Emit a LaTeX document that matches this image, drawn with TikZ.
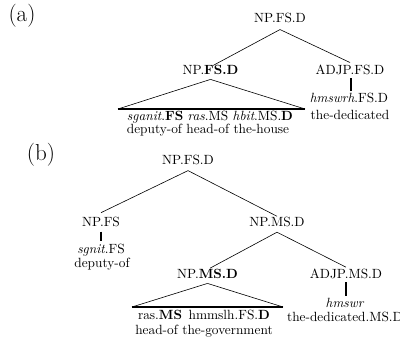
\documentclass[tikz,border=0pt]{standalone}
\begin{document}
\begin{tikzpicture}[x=0.75pt,y=-0.75pt,
  lbl/.style={inner sep=0pt,anchor=base,font=\fontsize{10}{12}\selectfont},
  panel/.style={inner sep=0pt,font=\LARGE},
  branch/.style={line width=0.45pt},
  bar/.style={line width=1.3pt},
  roofbase/.style={line width=1.2pt}]
\useasboundingbox (0,0) rectangle (400,341);
% ---------- (a) ----------
\node[panel] (pa) at (22,16) {(a)};
\node[lbl] (aroot) at (280,23) {NP.FS.D};
\node[lbl] (anp) at (210.5,75) {NP.\textbf{FS.D}};
\node[lbl] (aadj) at (350,75) {ADJP.FS.D};
\node[lbl] (aw1) at (349,103) {\textit{hmswrh}.FS.D};
\node[lbl] (ag1) at (350,119.5) {the-dedicated};
\node[lbl] (aw2) at (210,121) {\textit{sganit}.\textbf{FS} \textit{ras}.MS \textit{hbit}.MS.\textbf{D}};
\node[lbl] (ag2) at (208,133.5) {deputy-of head-of the-house};
\coordinate (abl) at (118,109);
\coordinate (abr) at (305,109);
\draw[branch] ([yshift=-4.5pt]aroot.south) -- ([xshift=2pt]anp.north);
\draw[branch] ([yshift=-4.5pt]aroot.south) -- ([yshift=2pt]aadj.north);
\draw[bar] ([xshift=0.8pt,yshift=-2pt]aadj.south) -- ([xshift=0.8pt,yshift=1.5pt]aadj.south |- aw1.north);
\draw[branch] ([yshift=-3pt]anp.south) -- (abl);
\draw[branch] ([yshift=-3pt]anp.south) -- (abr);
\draw[roofbase] (abl) -- (abr);
% ---------- (b) ----------
\node[panel] (pb) at (41,155) {(b)};
\node[lbl] (broot) at (188,165) {NP.FS.D};
\node[lbl] (bnpfs) at (101,227) {NP.FS};
\node[lbl] (bw1) at (101,254) {\textit{sgnit}.FS};
\node[lbl] (bg1) at (102,268) {deputy-of};
\node[lbl] (bnpms) at (277,227) {NP.MS.D};
\node[lbl] (bnpmsd) at (207.5,279) {NP.\textbf{MS.D}};
\node[lbl] (badj) at (346,279) {ADJP.MS.D};
\node[lbl] (bw2) at (345,308) {\textit{hmswr}};
\node[lbl] (bg2) at (345,322) {the-dedicated.MS.D};
\node[lbl] (bw3) at (204,320) {ras.\textbf{MS}\hspace{1.6pt} hmmslh.FS.\textbf{D}};
\node[lbl] (bg3) at (204,335) {head-of the-government};
\coordinate (bbl) at (132,307);
\coordinate (bbr) at (283,307);
\draw[branch] ([yshift=-3.8pt]broot.south) -- ([yshift=3.5pt]bnpfs.north);
\draw[branch] ([yshift=-3.8pt]broot.south) -- ([yshift=0.8pt]bnpms.north);
\draw[bar] ([yshift=-3pt]bnpfs.south) -- ([yshift=2.5pt]bnpfs.south |- bw1.north);
\draw[branch] ([yshift=-3.5pt]bnpms.south) -- ([xshift=2pt,yshift=1pt]bnpmsd.north);
\draw[branch] ([yshift=-3.5pt]bnpms.south) -- ([yshift=1.5pt]badj.north);
\draw[bar] ([yshift=-2pt]badj.south) -- ([yshift=2pt]badj.south |- bw2.north);
\draw[branch] ([yshift=-3pt]bnpmsd.south) -- (bbl);
\draw[branch] ([yshift=-3pt]bnpmsd.south) -- (bbr);
\draw[roofbase] (bbl) -- (bbr);
\end{tikzpicture}
\end{document}
